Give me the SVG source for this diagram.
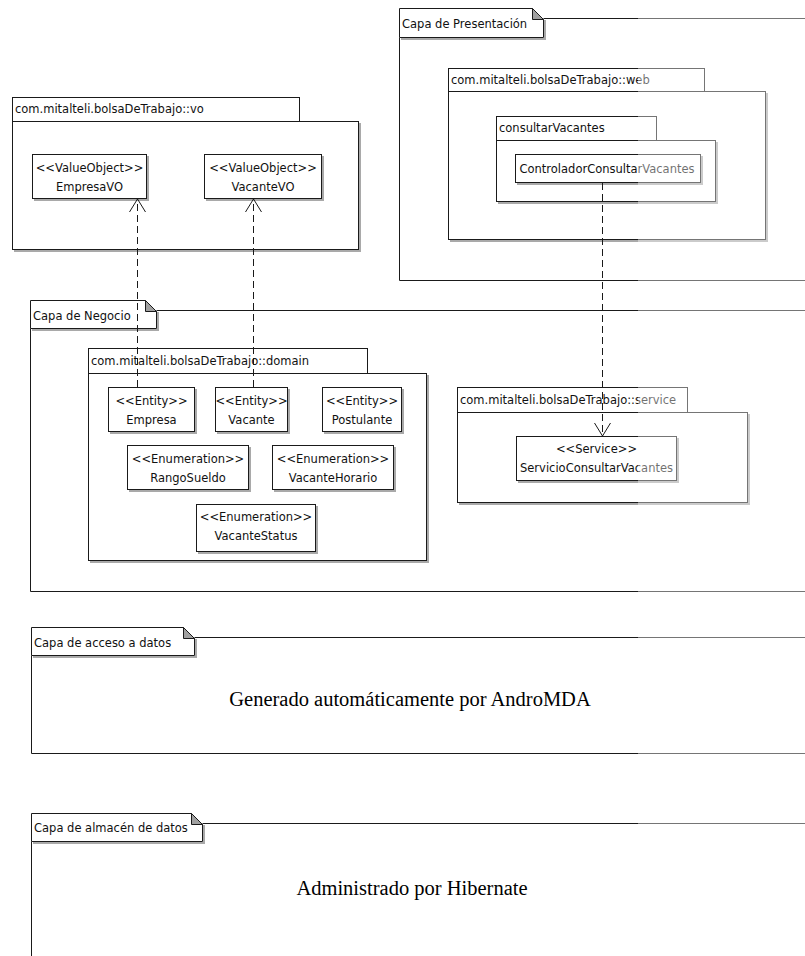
<svg xmlns="http://www.w3.org/2000/svg" width="805" height="956" viewBox="0 0 805 956">
  <defs>
    <style>
      .ln { stroke: #1a1a1a; stroke-width: 1; fill: none; }
      .box { fill: #ffffff; stroke: #1a1a1a; stroke-width: 1; }
      .shd { fill: #a9a9a9; }
      .fold { fill: #a0a0a0; stroke: #1a1a1a; stroke-width: 1; }
      .t { font-family: "DejaVu Sans", Verdana, sans-serif; font-size: 11.5px; fill: #111; }
      .c { text-anchor: middle; }
      .big { font-family: "Liberation Serif", "Times New Roman", serif; font-size: 20.5px; fill: #000; text-anchor: middle; }
      .dep { stroke: #1a1a1a; stroke-width: 1; stroke-dasharray: 7 4; fill: none; marker-end: url(#open); }
    </style>
    <marker id="open" markerUnits="userSpaceOnUse" markerWidth="20" markerHeight="20" refX="14" refY="9" orient="auto">
      <path d="M1,1 L14,9 L1,17" fill="none" stroke="#1a1a1a" stroke-width="1"/>
    </marker>
  </defs>
  <rect width="805" height="956" fill="#ffffff"/>

  <!-- Layer frames -->
  <g id="capa-presentacion">
    <path class="ln" d="M543.5,18.5 H805 M399.5,37.5 V280.5 H805"/>
    <path class="shd" d="M544,20 H546 V40 H401 V38 H544 Z"/>
    <path class="box" d="M399.5,8.5 H532.5 L543.5,19.5 V37.5 H399.5 Z"/>
    <path class="fold" d="M532.5,8.5 L543.5,19.5 H532.5 Z"/>
    <text class="t" x="402" y="28">Capa de Presentación</text>
  </g>

  <g id="capa-negocio">
    <path class="ln" d="M156.5,310.5 H805 M30.5,328.5 V591.5 H805"/>
    <path class="shd" d="M157,312 H159 V331 H32 V329 H157 Z"/>
    <path class="box" d="M30.5,300.5 H145.5 L156.5,311.5 V328.5 H30.5 Z"/>
    <path class="fold" d="M145.5,300.5 L156.5,311.5 H145.5 Z"/>
    <text class="t" x="33" y="320">Capa de Negocio</text>
  </g>

  <g id="capa-acceso-datos">
    <path class="ln" d="M194.5,637.5 H805 M31.5,655.5 V753.5 H805"/>
    <path class="shd" d="M195,639 H197 V658 H33 V656 H195 Z"/>
    <path class="box" d="M31.5,627.5 H183.5 L194.5,638.5 V655.5 H31.5 Z"/>
    <path class="fold" d="M183.5,627.5 L194.5,638.5 H183.5 Z"/>
    <text class="t" x="34" y="647">Capa de acceso a datos</text>
    <text class="big" x="410" y="706">Generado automáticamente por AndroMDA</text>
  </g>

  <g id="capa-almacen-datos">
    <path class="ln" d="M202.5,823.5 H805 M31.5,841.5 V956"/>
    <path class="shd" d="M203,825 H205 V844 H33 V842 H203 Z"/>
    <path class="box" d="M31.5,813.5 H191.5 L202.5,824.5 V841.5 H31.5 Z"/>
    <path class="fold" d="M191.5,813.5 L202.5,824.5 H191.5 Z"/>
    <text class="t" x="34" y="832">Capa de almacén de datos</text>
    <text class="big" x="412" y="895">Administrado por Hibernate</text>
  </g>

  <!-- Packages -->
  <g id="pkg-vo">
    <rect class="shd" x="14" y="123" width="347" height="129"/>
    <rect class="box" x="12.5" y="121.5" width="346" height="128"/>
    <rect class="box" x="12.5" y="97.5" width="287" height="24"/>
    <text class="t" x="15" y="113">com.mitalteli.bolsaDeTrabajo::vo</text>
  </g>

  <g id="pkg-web">
    <rect class="shd" x="450" y="93" width="318" height="149"/>
    <rect class="box" x="448.5" y="91.5" width="317" height="148"/>
    <rect class="box" x="448.5" y="68.5" width="256" height="23"/>
    <text class="t" x="451" y="84">com.mitalteli.bolsaDeTrabajo::web</text>
  </g>

  <g id="pkg-consultarVacantes">
    <rect class="shd" x="498" y="142" width="220" height="62"/>
    <rect class="box" x="496.5" y="140.5" width="219" height="61"/>
    <rect class="box" x="496.5" y="116.5" width="160" height="24"/>
    <text class="t" x="499" y="132">consultarVacantes</text>
  </g>

  <g id="pkg-domain">
    <rect class="shd" x="90" y="375" width="339" height="188"/>
    <rect class="box" x="88.5" y="373.5" width="338" height="187"/>
    <rect class="box" x="88.5" y="348.5" width="279" height="25"/>
    <text class="t" x="91" y="365">com.mitalteli.bolsaDeTrabajo::domain</text>
  </g>

  <g id="pkg-service">
    <rect class="shd" x="459" y="414" width="291" height="91"/>
    <rect class="box" x="457.5" y="412.5" width="290" height="90"/>
    <rect class="box" x="457.5" y="387.5" width="230" height="25"/>
    <text class="t" x="460" y="404">com.mitalteli.bolsaDeTrabajo::service</text>
  </g>

  <!-- Classes -->
  <g id="EmpresaVO">
    <rect class="shd" x="34" y="156" width="115" height="45"/>
    <rect class="box" x="32.5" y="154.5" width="114" height="44"/>
    <text class="t c" x="89.5" y="172">&lt;&lt;ValueObject&gt;&gt;</text>
    <text class="t c" x="89.5" y="191">EmpresaVO</text>
  </g>

  <g id="VacanteVO">
    <rect class="shd" x="206" y="156" width="118" height="45"/>
    <rect class="box" x="204.5" y="154.5" width="117" height="44"/>
    <text class="t c" x="263" y="172">&lt;&lt;ValueObject&gt;&gt;</text>
    <text class="t c" x="263" y="191">VacanteVO</text>
  </g>

  <g id="ControladorConsultarVacantes">
    <rect class="shd" x="517" y="156" width="186" height="29"/>
    <rect class="box" x="515.5" y="154.5" width="185" height="28"/>
    <text class="t c" x="607" y="173">ControladorConsultarVacantes</text>
  </g>

  <g id="Empresa">
    <rect class="shd" x="110" y="389" width="87" height="45"/>
    <rect class="box" x="108.5" y="387.5" width="86" height="44"/>
    <text class="t c" x="151.5" y="405">&lt;&lt;Entity&gt;&gt;</text>
    <text class="t c" x="151.5" y="424">Empresa</text>
  </g>

  <g id="Vacante">
    <rect class="shd" x="217" y="389" width="73" height="45"/>
    <rect class="box" x="215.5" y="387.5" width="72" height="44"/>
    <text class="t c" x="251.5" y="405">&lt;&lt;Entity&gt;&gt;</text>
    <text class="t c" x="251.5" y="424">Vacante</text>
  </g>

  <g id="Postulante">
    <rect class="shd" x="324" y="389" width="80" height="45"/>
    <rect class="box" x="322.5" y="387.5" width="79" height="44"/>
    <text class="t c" x="362" y="405">&lt;&lt;Entity&gt;&gt;</text>
    <text class="t c" x="362" y="424">Postulante</text>
  </g>

  <g id="RangoSueldo">
    <rect class="shd" x="129" y="447" width="122" height="45"/>
    <rect class="box" x="127.5" y="445.5" width="121" height="44"/>
    <text class="t c" x="188" y="463">&lt;&lt;Enumeration&gt;&gt;</text>
    <text class="t c" x="188" y="482">RangoSueldo</text>
  </g>

  <g id="VacanteHorario">
    <rect class="shd" x="274" y="447" width="122" height="45"/>
    <rect class="box" x="272.5" y="445.5" width="121" height="44"/>
    <text class="t c" x="333" y="463">&lt;&lt;Enumeration&gt;&gt;</text>
    <text class="t c" x="333" y="482">VacanteHorario</text>
  </g>

  <g id="VacanteStatus">
    <rect class="shd" x="198" y="506" width="120" height="48"/>
    <rect class="box" x="196.5" y="504.5" width="119" height="47"/>
    <text class="t c" x="256" y="521">&lt;&lt;Enumeration&gt;&gt;</text>
    <text class="t c" x="256" y="540">VacanteStatus</text>
  </g>

  <g id="ServicioConsultarVacantes">
    <rect class="shd" x="518" y="438" width="161" height="45"/>
    <rect class="box" x="516.5" y="436.5" width="160" height="44"/>
    <text class="t c" x="596.5" y="453">&lt;&lt;Service&gt;&gt;</text>
    <text class="t c" x="596.5" y="472">ServicioConsultarVacantes</text>
  </g>

  <!-- Dependencies -->
  <g id="connectors">
    <path class="dep" d="M137.5,387 V199"/>
    <path class="dep" d="M253.5,387 V199"/>
    <path class="dep" d="M602.5,183 V436"/>
  </g>

  <!-- lighter right-hand strip -->
  <rect x="638" y="0" width="167" height="956" fill="#ffffff" opacity="0.4"/>
</svg>
